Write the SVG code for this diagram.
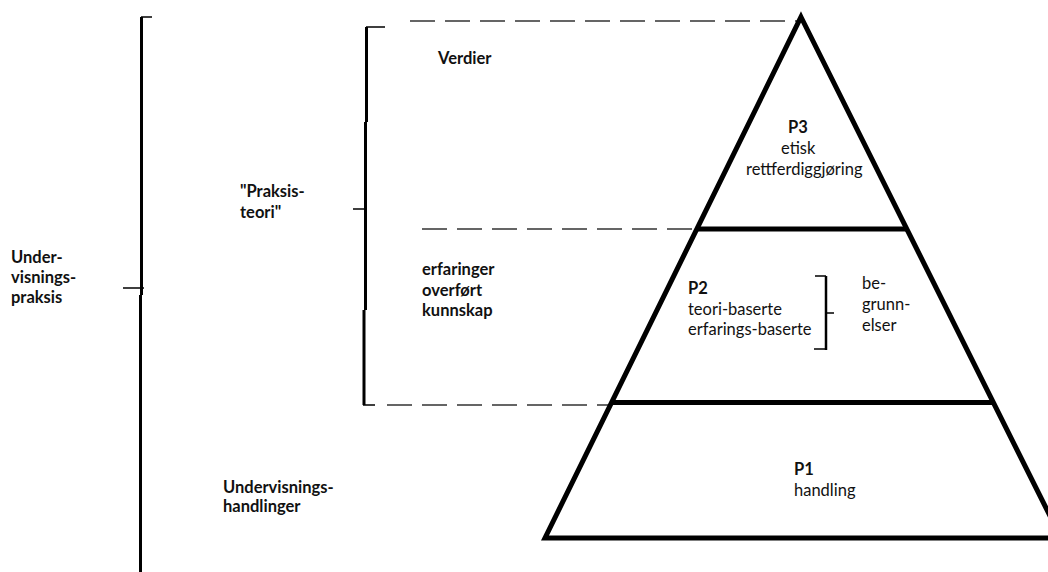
<svg xmlns="http://www.w3.org/2000/svg" width="1048" height="572" viewBox="0 0 1048 572">
<style>
text{font-family:Lato,"Liberation Sans",sans-serif;font-size:16.5px;fill:#111}
.b{font-weight:bold}
.thick{stroke:#000;stroke-width:5;fill:none;stroke-linejoin:miter}
.br{stroke:#000;stroke-width:3;fill:none}
.tick{stroke:#000;stroke-width:1.5;fill:none}
.dash{stroke:#333;stroke-width:1.5;fill:none;stroke-dasharray:25 10}
</style>
<rect width="1048" height="572" fill="#fff"/>
<g id="bracket-undervisningspraksis">
<path class="br" d="M141.5 17 V295 M140.5 295 V572"/>
<path class="tick" d="M141 17 H152 M123 288 H144"/>
<text class="b" x="11" y="263">Under-</text>
<text class="b" x="11" y="283">visnings-</text>
<text class="b" x="11" y="303">praksis</text>
</g>
<g id="bracket-praksisteori">
<path class="br" d="M366.5 27 V122 M365.5 122 V310 M364 310 V405"/>
<path class="tick" d="M366 27 H385 M353 209 H366 M363 405 H375"/>
<text class="b" x="240" y="197">"Praksis-</text>
<text class="b" x="240" y="218">teori"</text>
</g>
<g id="connectors">
<path class="dash" d="M410 21 H800"/>
<path class="dash" d="M422 229 H698"/>
<path class="dash" d="M387 405 H612"/>
</g>
<g id="pyramid">
<path class="thick" d="M801 17 L1061 538 L545 538 Z"/>
<path class="thick" d="M697 229 H906"/>
<path class="thick" d="M612 402.5 H993"/>
</g>
<g id="p3">
<text class="b" x="788" y="133">P3</text>
<text x="781" y="154">etisk</text>
<text x="746" y="175">rettferdiggjøring</text>
</g>
<g id="p2">
<text class="b" x="688" y="294">P2</text>
<text x="688" y="315">teori-baserte</text>
<text x="688" y="335">erfarings-baserte</text>
<path class="br" style="stroke-width:2.5" d="M826 276 V350"/>
<path class="tick" d="M815 276 H826 M814 349 H826 M826 313 H834"/>
<text x="862" y="289">be-</text>
<text x="862" y="310">grunn-</text>
<text x="862" y="331">elser</text>
</g>
<g id="p1">
<text class="b" x="794" y="475">P1</text>
<text x="794" y="496">handling</text>
</g>
<g id="left-labels">
<text class="b" x="438" y="64">Verdier</text>
<text class="b" x="422" y="275">erfaringer</text>
<text class="b" x="422" y="296">overført</text>
<text class="b" x="422" y="316">kunnskap</text>
<text class="b" x="223" y="493">Undervisnings-</text>
<text class="b" x="223" y="512">handlinger</text>
</g>
</svg>
